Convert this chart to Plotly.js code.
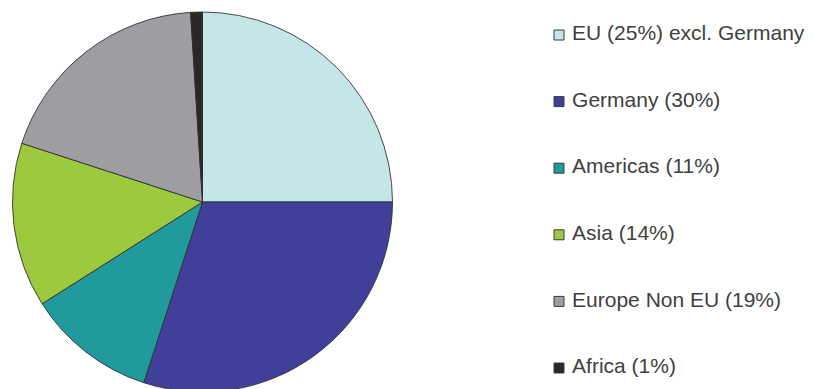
<!DOCTYPE html>
<html>
<head>
<meta charset="utf-8">
<script src="https://cdn.plot.ly/plotly-3.0.1.min.js"></script>
<style>
html,body{margin:0;padding:0;background:#fff;overflow:hidden;}
#chart{width:814px;height:392px;}
</style>
</head>
<body>
<div id="chart"></div>
<script>
// Data
var regions = ["EU (25%) excl. Germany", "Germany (30%)", "Americas (11%)", "Asia (14%)", "Europe Non EU (19%)", "Africa (1%)"];
var shares = [25, 30, 11, 14, 19, 1];
var colors = ["#c4e6e8", "#40409a", "#219a9e", "#9cc93d", "#9e9ea2", "#282828"];
var legendIndex = [0, 1, 2, 3, 4, 5];

var pie = {
  type: "pie",
  labels: regions,
  values: shares,
  sort: false,
  direction: "clockwise",
  rotation: 0,
  textinfo: "none",
  hoverinfo: "label+value",
  showlegend: false,
  marker: {colors: colors, line: {color: "rgba(45,45,45,0.85)", width: 1}},
  domain: {x: [12.5/814, 392.5/814], y: [0, 1]}
};

var legend = {
  type: "scatter",
  mode: "markers+text",
  x: legendIndex.map(function(){return 0;}),
  y: legendIndex,
  text: regions.map(function(r){return "\u00a0" + r;}),
  textposition: "middle right",
  textfont: {family: "Liberation Sans, Arial, sans-serif", size: 21, color: "#404040"},
  marker: {symbol: "square", size: 10, color: colors, line: {color: "#3a3a3a", width: 1}},
  hoverinfo: "skip",
  showlegend: false,
  cliponaxis: false
};

var layout = {
  width: 814,
  height: 392,
  margin: {l: 0, r: 0, t: 12, b: 0},
  paper_bgcolor: "#ffffff",
  plot_bgcolor: "rgba(0,0,0,0)",
  showlegend: false,
  xaxis: {range: [-559, 255], visible: false, fixedrange: true},
  yaxis: {range: [(392-35)/66.6, (12-35)/66.6], visible: false, fixedrange: true}
};

Plotly.newPlot("chart", [pie, legend], layout, {displayModeBar: false, staticPlot: true});
</script>
</body>
</html>
